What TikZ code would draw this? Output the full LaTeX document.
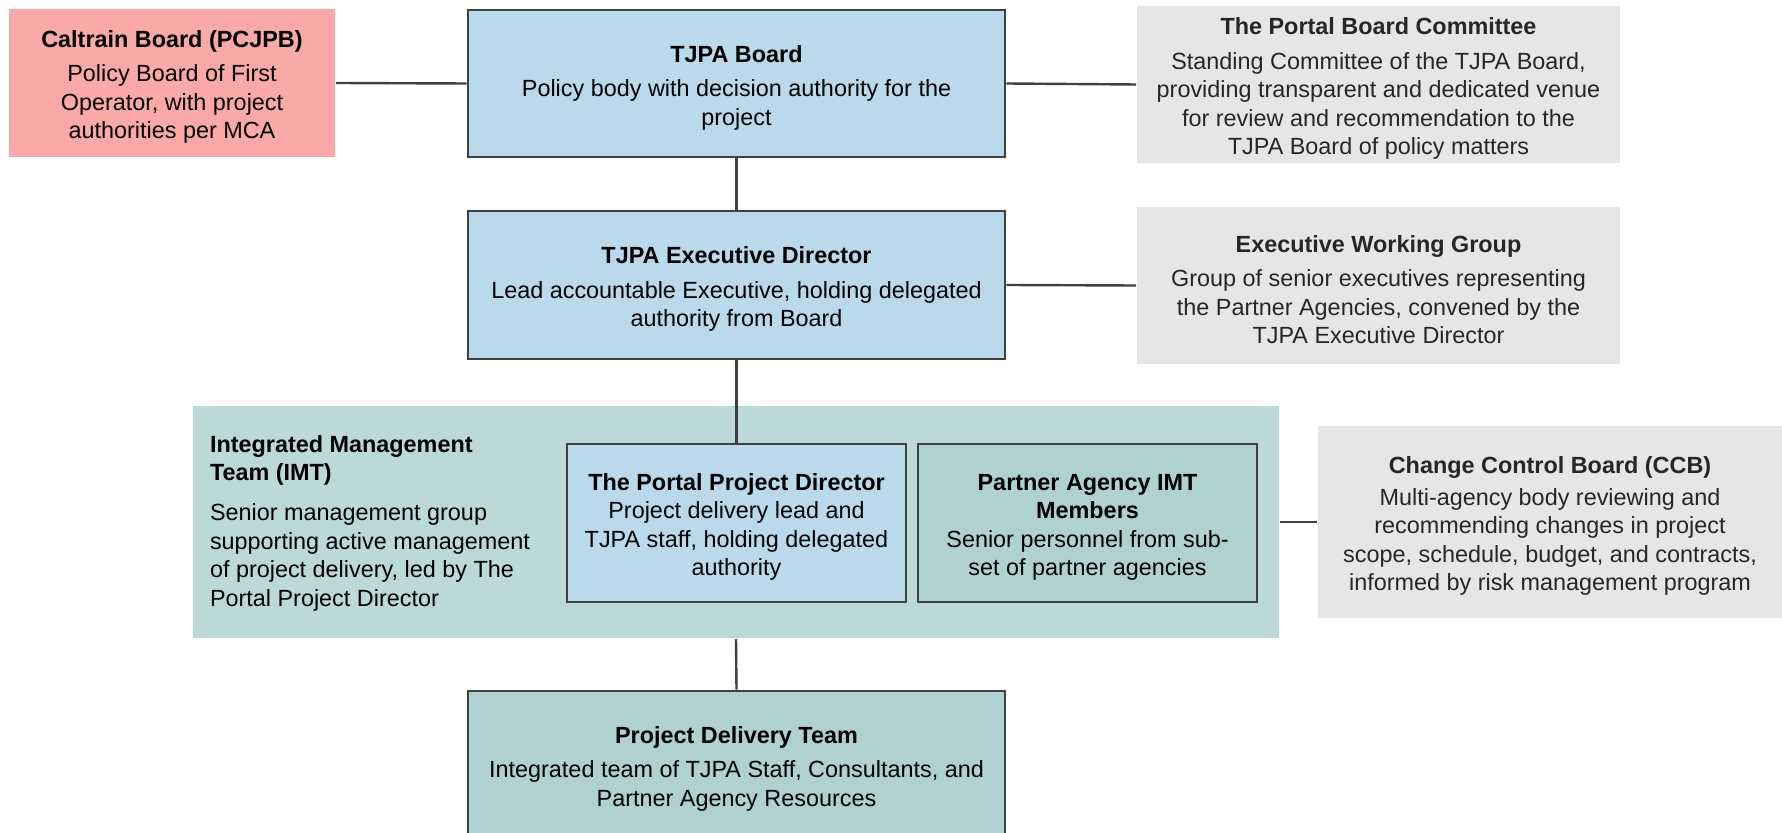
\documentclass[tikz,border=0pt]{standalone}
\usepackage{fontspec}
\setmainfont{Liberation Sans}
\usepackage{tikz}
\usepackage{xcolor}
\definecolor{edgegrey}{RGB}{64,64,64}
\definecolor{pinkfill}{RGB}{250,168,168}
\definecolor{bluefill}{RGB}{186,217,235}
\definecolor{greyfill}{RGB}{230,230,228}
\definecolor{imtfill}{RGB}{189,216,216}
\definecolor{tealfill}{RGB}{175,209,209}
\definecolor{greytext}{RGB}{38,38,38}
\newcommand{\boxtitle}[1]{\rule{0pt}{12.6pt}\textbf{#1}}
\tikzset{every picture/.style={line width=1pt}}
\tikzset{
  boxtext/.style={align=center, inner sep=0pt, font=\fontsize{11.7}{14.2}\selectfont},
  bluebox/.style={boxtext, draw=edgegrey, line width=1.3pt, fill=bluefill},
  tealbox/.style={boxtext, draw=edgegrey, line width=1.3pt, fill=tealfill},
  greybox/.style={boxtext, fill=greyfill, text=greytext},
  link/.style={draw=edgegrey, line width=1.2pt},
}

\begin{document}
\begin{tikzpicture}[x=0.5pt,y=0.5pt,yscale=-1,xscale=1]
\useasboundingbox (0,0) rectangle (1782,833);

%Shape: Rectangle [Caltrain]
\node [boxtext, fill=pinkfill, minimum width=163pt, minimum height=74pt] (caltrain) at (172,83)
  {\boxtitle{Caltrain Board (PCJPB)}\\[3pt] Policy Board of First\\ Operator, with project\\ authorities per MCA};
%Shape: Rectangle [TJPA Board]
\node [bluebox, minimum width=268.5pt, minimum height=73.5pt] (tjpa) at (736.5,83.5)
  {\boxtitle{TJPA Board}\\[3pt] Policy body with decision authority for the\\ project};
%Shape: Rectangle [Portal Board Committee]
\node [greybox, minimum width=241.5pt, minimum height=78.5pt] (pbc) at (1378.5,84.5)
  {\boxtitle{The Portal Board Committee}\\[3pt] Standing Committee of the TJPA Board,\\ providing transparent and dedicated venue\\ for review and recommendation to the\\ TJPA Board of policy matters};
%Shape: Rectangle [Executive Director]
\node [bluebox, minimum width=268.5pt, minimum height=74pt] (exec) at (736.5,285)
  {\boxtitle{TJPA Executive Director}\\[3pt] Lead accountable Executive, holding delegated\\ authority from Board};
%Shape: Rectangle [Executive Working Group]
\node [greybox, minimum width=241.5pt, minimum height=78.5pt] (ewg) at (1378.5,285.5)
  {\boxtitle{Executive Working Group}\\[3pt] Group of senior executives representing\\ the Partner Agencies, convened by the\\ TJPA Executive Director};

%Shape: Rectangle [IMT background]
\node [fill=imtfill, inner sep=0pt, minimum width=543pt, minimum height=116pt] (imt) at (736,522) {};
% Text Node
\node [boxtext, align=left, anchor=west] (imtlabel) at (209,519)
  {\boxtitle{Integrated Management}\\ \textbf{Team (IMT)}\\[6pt] Senior management group\\ supporting active management\\ of project delivery, led by The\\ Portal Project Director};
%Shape: Rectangle [Portal Project Director]
\node [bluebox, minimum width=169.5pt, minimum height=79pt] (ppd) at (736.5,523)
  {\boxtitle{The Portal Project Director}\\ Project delivery lead and\\ TJPA staff, holding delegated\\ authority};
%Shape: Rectangle [Partner Agency IMT]
\node [tealbox, minimum width=169.5pt, minimum height=79pt] (partner) at (1087.5,523)
  {\boxtitle{Partner Agency IMT}\\ \textbf{Members}\\ Senior personnel from sub-\\ set of partner agencies};
%Shape: Rectangle [Change Control Board]
\node [greybox, minimum width=232pt, minimum height=96pt] (ccb) at (1550,522)
  {\boxtitle{Change Control Board (CCB)}\\[1.5pt] Multi-agency body reviewing and\\ recommending changes in project\\ scope, schedule, budget, and contracts,\\ informed by risk management program};
%Shape: Rectangle [Project Delivery Team]
\node [tealbox, minimum width=268.5pt, minimum height=73.5pt] (pdt) at (736.5,764.5)
  {\boxtitle{Project Delivery Team}\\[3pt] Integrated team of TJPA Staff, Consultants, and\\ Partner Agency Resources};

%Straight Lines
\draw [link] (caltrain.east) -- (tjpa.west);
\draw [link] (tjpa.east) -- (pbc.west);
\draw [link] (tjpa.south) -- (exec.north);
\draw [link] (exec.east) -- (ewg.west);
\draw [link] (exec.south) -- (ppd.north);
\draw [link] (imt.east) -- (ccb.west);
\draw [link] (imt.south) -- (pdt.north);

\end{tikzpicture}
\end{document}
